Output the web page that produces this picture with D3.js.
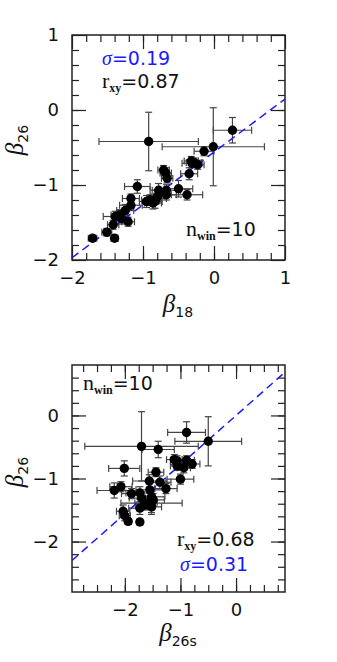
<!DOCTYPE html>
<html lang="en">
<head>
<meta charset="utf-8">
<style>
  body { margin: 0; background: #fff; }
  svg { display: block; }
  .tick text { font: 18px "DejaVu Sans", sans-serif; fill: #111; }
  .tick line { stroke: #222; stroke-width: 1.2; }
  .lab { font-family: "Liberation Serif", "DejaVu Serif", serif; fill: #111; }
</style>
<title>beta comparison</title>
<script src="https://cdn.jsdelivr.net/npm/d3@7"></script>
</head>
<body>
<script>
// top panel: beta_18 vs beta_26
var topX  = [-1.71,-1.51,-1.40,-1.42,-1.39,-1.33,-1.25,-1.21,-1.17,-1.17,-1.08,-0.92,-0.90,-0.86,-0.83,-0.81,-0.78,-0.71,-0.68,-0.66,-0.67,-0.67,-0.50,-0.38,-0.35,-0.31,-0.28,-0.23,-0.14,-0.01,0.26,-0.95,-0.79,-1.30,-0.32];
var topY  = [-1.71,-1.63,-1.71,-1.53,-1.42,-1.40,-1.34,-1.49,-1.27,-1.18,-1.02,-0.42,-1.20,-1.24,-1.22,-1.18,-1.07,-0.80,-0.84,-0.91,-1.07,-1.13,-1.05,-1.13,-0.85,-0.71,-0.70,-0.73,-0.55,-0.49,-0.27,-1.22,-1.15,-1.45,-0.68];
var topXe = [0.06,0.07,0.05,0.08,0.17,0.12,0.12,0.09,0.16,0.12,0.18,0.70,0.12,0.12,0.10,0.14,0.12,0.08,0.08,0.08,0.20,0.14,0.20,0.22,0.12,0.14,0.11,0.09,0.14,0.72,0.27,0.10,0.10,0.10,0.10];
var topYe = [0.04,0.05,0.04,0.06,0.07,0.07,0.08,0.06,0.07,0.06,0.09,0.39,0.07,0.08,0.09,0.07,0.09,0.06,0.07,0.06,0.08,0.07,0.11,0.07,0.08,0.06,0.06,0.06,0.06,0.52,0.17,0.08,0.07,0.07,0.06];

// bottom panel: beta_26s vs beta_26
var botX  = [-0.89,-0.50,-1.70,-1.40,-2.01,-1.11,-1.06,-0.89,-0.79,-0.94,-1.06,-1.44,-1.00,-1.56,-1.37,-1.26,-2.07,-2.19,-1.88,-1.73,-1.70,-1.55,-1.52,-1.52,-1.62,-1.73,-2.03,-2.00,-1.94,-1.73,-1.49,-1.52,-1.65];
var botY  = [-0.27,-0.41,-0.49,-0.54,-0.84,-0.70,-0.72,-0.71,-0.77,-0.83,-0.80,-0.90,-1.01,-1.04,-1.06,-1.16,-1.13,-1.19,-1.24,-1.23,-1.31,-1.18,-1.29,-1.39,-1.39,-1.47,-1.52,-1.59,-1.68,-1.69,-1.34,-1.45,-1.42];
var botXe = [0.34,0.60,1.02,0.29,0.28,0.14,0.12,0.14,0.14,0.12,0.12,0.14,0.24,0.30,0.20,0.20,0.20,0.31,0.18,0.25,0.22,0.25,0.24,0.55,0.20,0.20,0.12,0.10,0.05,0.05,0.20,0.18,0.15];
var botYe = [0.17,0.39,0.55,0.13,0.12,0.08,0.08,0.07,0.07,0.08,0.07,0.07,0.08,0.10,0.10,0.08,0.08,0.12,0.08,0.10,0.10,0.10,0.10,0.15,0.10,0.10,0.10,0.08,0.04,0.04,0.10,0.12,0.08];

var width = 337, height = 662;
var blue = "#1a1aff";
var sans = "'DejaVu Sans', sans-serif", serif = "'Liberation Serif', 'DejaVu Serif', serif";

var svg = d3.select("body").append("svg")
  .attr("width", width)
  .attr("height", height);

function panel(o) {
  var x = d3.scaleLinear().domain(o.xdom).range([72, 285]);
  var y = d3.scaleLinear().domain(o.ydom).range([o.bottom, o.top]);
  var g = svg.append("g");
  var fmt = d3.format("d");

  // ticks, all four sides, pointing inwards
  function ticks(axis, tr, vals, len, labels) {
    var a = axis.tickValues(vals).tickSize(-len);
    a.tickFormat(labels ? fmt : "");
    var s = g.append("g").attr("transform", tr).call(a);
    s.select(".domain").remove();
    return s;
  }
  ticks(d3.axisBottom(x), "translate(0," + o.bottom + ")", o.xminor, 7, false);
  ticks(d3.axisTop(x), "translate(0," + o.top + ")", o.xminor, 7, false);
  ticks(d3.axisLeft(y), "translate(72,0)", o.yminor, 7, false);
  ticks(d3.axisRight(y), "translate(285,0)", o.yminor, 7, false);
  ticks(d3.axisBottom(x).tickPadding(11), "translate(0," + o.bottom + ")", o.xmajor, 14, true);
  ticks(d3.axisTop(x), "translate(0," + o.top + ")", o.xmajor, 14, false);
  ticks(d3.axisLeft(y).tickPadding(13), "translate(72,0)", o.ymajor, 14, true);
  ticks(d3.axisRight(y), "translate(285,0)", o.ymajor, 14, false);

  g.append("rect")
    .attr("x", 72).attr("y", o.top)
    .attr("width", 213).attr("height", o.bottom - o.top)
    .attr("fill", "none").attr("stroke", "#222").attr("stroke-width", 1.5);

  var pts = o.xs.map(function(d, i) {
    return { x: d, y: o.ys[i], ex: o.xe[i], ey: o.ye[i] };
  });

  var eb = g.append("g").attr("stroke", "#444").attr("stroke-width", 1.2);
  pts.forEach(function(d) {
    var cx = x(d.x), cy = y(d.y);
    var x0 = x(d.x - d.ex), x1 = x(d.x + d.ex);
    var y0 = y(d.y - d.ey), y1 = y(d.y + d.ey);
    eb.append("line").attr("x1", x0).attr("x2", x1).attr("y1", cy).attr("y2", cy);
    eb.append("line").attr("x1", x0).attr("x2", x0).attr("y1", cy - 3.5).attr("y2", cy + 3.5);
    eb.append("line").attr("x1", x1).attr("x2", x1).attr("y1", cy - 3.5).attr("y2", cy + 3.5);
    eb.append("line").attr("x1", cx).attr("x2", cx).attr("y1", y0).attr("y2", y1);
    eb.append("line").attr("x1", cx - 3.5).attr("x2", cx + 3.5).attr("y1", y0).attr("y2", y0);
    eb.append("line").attr("x1", cx - 3.5).attr("x2", cx + 3.5).attr("y1", y1).attr("y2", y1);
  });

  g.append("line")
    .attr("x1", x(o.xdom[0])).attr("y1", y(o.slope * o.xdom[0] + o.icpt))
    .attr("x2", x(o.xdom[1])).attr("y2", y(o.slope * o.xdom[1] + o.icpt))
    .attr("stroke", blue).attr("stroke-width", 1.5)
    .attr("stroke-dasharray", "8,5");

  g.selectAll("circle.pt").data(pts).enter().append("circle")
    .attr("class", "pt")
    .attr("cx", function(d) { return x(d.x); })
    .attr("cy", function(d) { return y(d.y); })
    .attr("r", 4.7)
    .attr("fill", "#000");

  // axis labels
  var xl = g.append("text").attr("class", "lab")
    .attr("x", 178).attr("y", o.xlabY).attr("text-anchor", "middle");
  xl.append("tspan").attr("font-style", "italic").attr("font-size", 25).text("β");
  xl.append("tspan").attr("font-size", 14).attr("font-family", sans).attr("dy", 5).text(o.xsub);

  var yl = g.append("text").attr("class", "lab")
    .attr("transform", "translate(23," + o.ylabY + ") rotate(-90)")
    .attr("text-anchor", "middle");
  yl.append("tspan").attr("font-style", "italic").attr("font-size", 25).text("β");
  yl.append("tspan").attr("font-size", 14).attr("font-family", sans).attr("dy", 5).text("26");

  return g;
}

function label(g, px, py, col, head, headStyle, sub, val) {
  var t = g.append("text").attr("x", px).attr("y", py)
    .attr("fill", col).attr("font-size", 19).attr("font-family", sans);
  var h = t.append("tspan").attr("font-family", serif)
    .attr("font-size", headStyle ? 20 : 22).text(head);
  if (headStyle) h.attr("font-style", headStyle);
  if (sub) {
    t.append("tspan").attr("font-size", 12).attr("font-weight", "bold").attr("dy", 4)
      .attr("font-family", serif).text(sub);
    t.append("tspan").attr("dy", -4).text("=" + val);
  } else {
    t.append("tspan").text("=" + val);
  }
}

var g1 = panel({
  xdom: [-2, 1], ydom: [-2, 1], top: 35, bottom: 260,
  xmajor: [-2, -1, 0, 1], ymajor: [-2, -1, 0, 1],
  xminor: d3.range(-1.8, 1, 0.2), yminor: d3.range(-1.8, 1, 0.2),
  xs: topX, ys: topY, xe: topXe, ye: topYe,
  slope: 0.705, icpt: -0.56,
  xsub: "18", xlabY: 312, ylabY: 140
});
label(g1, 102, 65, blue, "σ", "italic", null, "0.19");
label(g1, 102, 88, "#111", "r", null, "xy", "0.87");
label(g1, 186, 236, "#111", "n", null, "win", "10");

var g2 = panel({
  xdom: [-2.95, 0.88], ydom: [-2.8, 0.8], top: 365, bottom: 592,
  xmajor: [-2, -1, 0], ymajor: [-2, -1, 0],
  xminor: d3.range(-2.75, 0.88, 0.25), yminor: d3.range(-2.6, 0.8, 0.2),
  xs: botX, ys: botY, xe: botXe, ye: botYe,
  slope: 0.78, icpt: 0,
  xsub: "26s", xlabY: 641, ylabY: 472
});
label(g2, 83, 390, "#111", "n", null, "win", "10");
label(g2, 177, 546, "#111", "r", null, "xy", "0.68");
label(g2, 180, 571, blue, "σ", "italic", null, "0.31");
</script>
</body>
</html>
